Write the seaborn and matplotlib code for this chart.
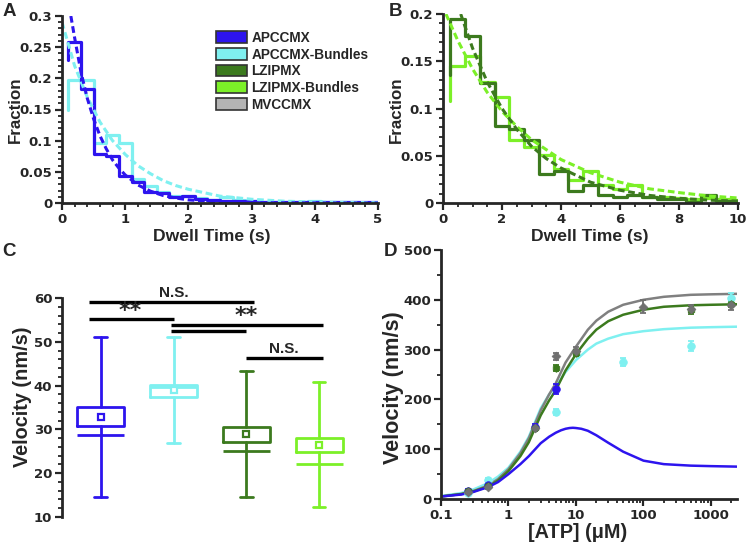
import numpy as np
import pandas as pd
import matplotlib
matplotlib.use("Agg")
import matplotlib.pyplot as plt
from matplotlib.patches import Patch
from matplotlib import font_manager
from matplotlib.ticker import MultipleLocator, FixedLocator, NullFormatter, LogLocator, FuncFormatter
import seaborn as sns

sns.set_style("ticks")
plt.rcParams['font.family'] = ['Liberation Sans', 'DejaVu Sans']
plt.rcParams['font.weight'] = 'bold'
plt.rcParams['axes.labelweight'] = 'bold'

_names = {f.name for f in font_manager.fontManager.ttflist}
if 'Liberation Sans Narrow' in _names:
    LABEL_FAM = ['Liberation Sans Narrow', 'DejaVu Sans']
    LSCALE = 1.0
else:
    LABEL_FAM = ['Liberation Sans', 'DejaVu Sans']
    LSCALE = 0.84

# ---------------- colours ----------------
C_BLUE = "#2d14ee"
C_CYAN = "#7ff0f0"
C_DGREEN = "#3c7a1e"
C_LGREEN = "#7cf028"
C_GRAY = "#808080"
C_GRAYFILL = "#b4b4b4"

# ---------------- Panel A data ----------------
a_edges_start = 0.1
a_bin = 0.2
a_blue_start = 0.23
a_blue = [0.259, 0.183, 0.079, 0.076, 0.044, 0.034, 0.017, 0.016, 0.010, 0.012,
          0.006, 0.005, 0.004, 0.003, 0.003, 0.002, 0.002, 0.001, 0.001, 0.002,
          0.001, 0.001, 0.001, 0.001, 0.001]
a_cyan_start = 0.15
a_cyan = [0.197, 0.197, 0.096, 0.109, 0.096, 0.039, 0.028, 0.018, 0.012, 0.012,
          0.008, 0.005, 0.010, 0.005, 0.003, 0.002, 0.002, 0.002, 0.002, 0.004,
          0.002, 0.001, 0.001, 0.0005, 0.0005]
a_fit_blue_x = [0.14, 0.2, 0.3, 0.4, 0.5, 0.6, 0.7, 0.8, 0.9, 1.0, 1.2, 1.4, 1.6, 1.8, 2.0, 2.5, 3.0, 4.0, 5.0]
a_fit_blue_y = [0.300, 0.265, 0.210, 0.168, 0.135, 0.108, 0.087, 0.069, 0.056, 0.045, 0.029, 0.019, 0.012, 0.008, 0.005, 0.0017, 0.0006, 0.0001, 0.0]
a_fit_cyan_x = [0.0, 0.2, 0.4, 0.6, 0.8, 1.0, 1.2, 1.4, 1.6, 1.8, 2.0, 2.5, 3.0, 3.5, 4.0, 5.0]
a_fit_cyan_y = [0.290, 0.220, 0.170, 0.130, 0.100, 0.078, 0.060, 0.047, 0.036, 0.028, 0.022, 0.011, 0.006, 0.003, 0.0015, 0.0005]

# ---------------- Panel B data ----------------
b_edges_start = 0.25
b_bin = 0.5
b_dg_start = 0.135
b_dg = [0.195, 0.177, 0.127, 0.081, 0.078, 0.067, 0.031, 0.034, 0.013, 0.019,
        0.008, 0.006, 0.008, 0.006, 0.004, 0.004, 0.0015, 0.008, 0.002, 0.002]
b_lg_start = 0.108
b_lg = [0.145, 0.156, 0.128, 0.112, 0.067, 0.059, 0.051, 0.036, 0.024, 0.034,
        0.019, 0.015, 0.019, 0.006, 0.006, 0.005, 0.004, 0.005, 0.004, 0.003]
b_fit_dg_x = [0.6, 1.0, 1.5, 2.0, 2.5, 3.0, 3.5, 4.0, 5.0, 6.0, 7.0, 8.0, 9.0, 10.0]
b_fit_dg_y = [0.200, 0.164, 0.128, 0.100, 0.078, 0.060, 0.047, 0.037, 0.022, 0.0135, 0.008, 0.005, 0.003, 0.002]
b_fit_lg_x = [0.1, 0.5, 1.0, 1.5, 2.0, 2.5, 3.0, 4.0, 5.0, 6.0, 7.0, 8.0, 9.0, 10.0]
b_fit_lg_y = [0.200, 0.172, 0.142, 0.117, 0.097, 0.081, 0.067, 0.046, 0.032, 0.022, 0.015, 0.011, 0.0075, 0.0053]

# ---------------- Panel C data ----------------
c_names = ["APCCMX", "APCCMX-Bundles", "LZIPMX", "LZIPMX-Bundles"]
c_q1 = [30.7, 37.5, 27.1, 24.8]
c_q3 = [35.1, 40.2, 30.6, 28.1]
c_mean = [32.9, 38.9, 28.9, 26.5]
c_med = [28.8, 39.7, 25.1, 22.1]
c_lo = [14.6, 26.8, 14.6, 12.2]
c_hi = [51.2, 51.2, 43.3, 40.8]
c_sig_x0 = [-0.16, -0.16, 0.96, 0.96, 2.0]
c_sig_x1 = [2.1, 1.01, 3.05, 1.99, 3.05]
c_sig_y = [59.2, 55.1, 53.9, 52.4, 46.4]
c_sig_text = ["N.S.", "**", "**", "", "N.S."]
c_sig_tx = [1.0, 0.4, 2.0, 1.5, 2.52]
c_sig_ty = [61.2, 57.0, 55.8, 52.8, 48.3]

# ---------------- Panel D data ----------------
d_curve_x = [0.1, 0.2, 0.3, 0.5, 0.7, 1, 1.5, 2, 3, 4, 5, 7, 10, 15, 20, 30, 50, 100, 200, 500, 1000, 2430]
d_gray_y = [5, 10, 16, 27, 40, 60, 92, 122, 178, 210, 232, 274, 306, 340, 358, 376, 390, 400, 406, 410, 411, 412]
d_dg_y = [5, 10, 15, 25, 37, 56, 86, 114, 168, 198, 218, 258, 291, 322, 340, 357, 370, 380, 386, 389, 390, 391]
d_cyan_y = [6, 12, 19, 32, 45, 63, 95, 125, 182, 210, 225, 255, 279, 300, 312, 322, 331, 337, 341, 344, 345, 346]
d_blue_x = [0.1, 0.2, 0.3, 0.5, 0.7, 1, 1.5, 2, 3, 4, 5, 6, 7, 8, 9, 10, 12, 15, 20, 30, 50, 100, 200, 500, 1000, 2430]
d_blue_y = [5, 9, 14, 24, 34, 50, 70, 86, 112, 125, 133, 138, 141, 142.5, 143, 142.5, 141, 137, 128, 113, 95, 77, 70, 67, 66, 65]

d_gray_px = [0.25, 0.5, 2.5, 5, 10, 100, 500, 2000]
d_gray_py = [15, 25, 143, 287, 297, 386, 382, 390]
d_gray_pe = [3, 4, 5, 7, 8, 13, 8, 10]
d_dg_px = [0.25, 0.5, 2.5, 5, 10, 500, 2000]
d_dg_py = [16, 27, 142, 264, 293, 380, 391]
d_dg_pe = [3, 3, 5, 6, 6, 8, 6]
d_cyan_px = [0.25, 0.5, 5, 50, 500, 2000]
d_cyan_py = [13, 38, 175, 275, 308, 403]
d_cyan_pe = [3, 4, 6, 8, 10, 10]
d_blue_px = [0.25, 0.5, 2.5, 5]
d_blue_py = [17, 28, 145, 220]
d_blue_pe = [3, 3, 5, 10]

legend_names = ["APCCMX", "APCCMX-Bundles", "LZIPMX", "LZIPMX-Bundles", "MVCCMX"]
legend_colors = [C_BLUE, C_CYAN, C_DGREEN, C_LGREEN, C_GRAYFILL]

W, H = 747, 551
fig = plt.figure(figsize=(W / 100, H / 100), dpi=100)


def ax_px(l, t, r, b):
    return fig.add_axes([l / W, 1 - b / H, (r - l) / W, (b - t) / H])


def style_axes(ax, hide_bottom=False):
    sns.despine(ax=ax)
    for s in ["left", "bottom"]:
        ax.spines[s].set_linewidth(2.0)
    if hide_bottom:
        ax.spines["bottom"].set_visible(False)
    ax.tick_params(which="major", length=5, width=1.6, labelsize=9.5, pad=2)
    ax.tick_params(which="minor", length=3, width=1.3)
    for lab in ax.get_xticklabels() + ax.get_yticklabels():
        lab.set_fontweight("bold")
        lab.set_family("DejaVu Sans")


def set_labels(ax, xl, xs, xpos, yl, ys, ypos):
    if xl:
        ax.set_xlabel(xl, fontsize=xs * LSCALE, family=LABEL_FAM, fontweight="bold")
        ax.xaxis.set_label_coords(*xpos)
        ax.xaxis.label.set_va("center")
    if yl:
        ax.set_ylabel(yl, fontsize=ys * LSCALE, family=LABEL_FAM, fontweight="bold")
        ax.yaxis.set_label_coords(*ypos)
        ax.yaxis.label.set_va("center")


def step_xy(start, width, start_val, vals):
    xs = [start] + [start + i * width for i in range(len(vals) + 1)]
    ys = [start_val] + list(vals) + [vals[-1]]
    return xs, ys


dash = (0, (2.2, 1.2))

# ================= Panel A =================
axA = ax_px(62, 16, 378, 203)
for start_val, vals, col in [(a_cyan_start, a_cyan, C_CYAN), (a_blue_start, a_blue, C_BLUE)]:
    xs, ys = step_xy(a_edges_start, a_bin, start_val, vals)
    sns.lineplot(x=xs, y=ys, ax=axA, color=col, lw=2.3, estimator=None, sort=False,
                 drawstyle="steps-post")
sns.lineplot(x=a_fit_cyan_x, y=a_fit_cyan_y, ax=axA, color=C_CYAN, lw=2.2, linestyle=dash, estimator=None)
sns.lineplot(x=a_fit_blue_x, y=a_fit_blue_y, ax=axA, color=C_BLUE, lw=2.2, linestyle=dash, estimator=None)
axA.set_xlim(0, 5)
axA.set_ylim(0, 0.3)
axA.xaxis.set_major_locator(MultipleLocator(1))
axA.xaxis.set_minor_locator(MultipleLocator(0.2))
axA.yaxis.set_major_locator(FixedLocator([0, 0.05, 0.1, 0.15, 0.2, 0.25, 0.3]))
axA.yaxis.set_minor_locator(MultipleLocator(0.01))
axA.set_yticklabels(["0", "0.05", "0.1", "0.15", "0.2", "0.25", "0.3"])
style_axes(axA)
set_labels(axA, "Dwell Time (s)", 15, ((212 - 62) / 316, (203 - 236) / 187),
           "Fraction", 14.5, ((15 - 62) / 316, (203 - 110) / 187))
handles = [Patch(facecolor=c, edgecolor="#333333", linewidth=1.2) for c in legend_colors]
leg = axA.legend(handles, legend_names, loc="upper left", bbox_to_anchor=(0.47, 0.95),
                 frameon=False, handlelength=2.3, handleheight=0.95, labelspacing=0.2,
                 handletextpad=0.3, borderaxespad=0,
                 prop={"weight": "bold", "size": 9.8, "family": "Liberation Sans"})

# ================= Panel B =================
axB = ax_px(443, 14, 738, 203)
for start_val, vals, col in [(b_lg_start, b_lg, C_LGREEN), (b_dg_start, b_dg, C_DGREEN)]:
    xs, ys = step_xy(b_edges_start, b_bin, start_val, vals)
    sns.lineplot(x=xs, y=ys, ax=axB, color=col, lw=2.3, estimator=None, sort=False,
                 drawstyle="steps-post")
sns.lineplot(x=b_fit_lg_x, y=b_fit_lg_y, ax=axB, color=C_LGREEN, lw=2.2, linestyle=dash, estimator=None)
sns.lineplot(x=b_fit_dg_x, y=b_fit_dg_y, ax=axB, color=C_DGREEN, lw=2.2, linestyle=dash, estimator=None)
axB.set_xlim(0, 10)
axB.set_ylim(0, 0.2)
axB.xaxis.set_major_locator(MultipleLocator(2))
axB.xaxis.set_minor_locator(MultipleLocator(0.5))
axB.yaxis.set_major_locator(FixedLocator([0, 0.05, 0.1, 0.15, 0.2]))
axB.yaxis.set_minor_locator(MultipleLocator(0.01))
axB.set_yticklabels(["0", "0.05", "0.1", "0.15", "0.2"])
style_axes(axB)
set_labels(axB, "Dwell Time (s)", 15, ((590 - 443) / 295, (203 - 236) / 189),
           "Fraction", 14.5, ((396 - 443) / 295, (203 - 110) / 189))

# ================= Panel C =================
axC = ax_px(62, 298, 363, 517)
box_cols = [C_BLUE, C_CYAN, C_DGREEN, C_LGREEN]
for i in range(4):
    st = [dict(med=c_med[i], q1=c_q1[i], q3=c_q3[i], whislo=c_lo[i], whishi=c_hi[i],
               mean=c_mean[i], fliers=[], label=c_names[i])]
    col = box_cols[i]
    axC.bxp(st, positions=[i], widths=0.65, capwidths=0.17, showmeans=True, showfliers=False,
            boxprops=dict(color=col, lw=2.0), whiskerprops=dict(color=col, lw=2.0),
            capprops=dict(color=col, lw=2.0), medianprops=dict(color=col, lw=2.0),
            meanprops=dict(marker="s", markerfacecolor="white", markeredgecolor=col,
                           markersize=4.5, markeredgewidth=1.6), manage_ticks=False)
for x0, x1, y, t, tx, ty in zip(c_sig_x0, c_sig_x1, c_sig_y, c_sig_text, c_sig_tx, c_sig_ty):
    axC.plot([x0, x1], [y, y], color="black", lw=2.4, clip_on=False, solid_capstyle="butt")
    if t == "**":
        axC.text(tx, ty, t, ha="center", va="center", fontsize=16, fontweight="bold",
                 family="DejaVu Sans", clip_on=False)
    elif t:
        axC.text(tx, ty, t, ha="center", va="center", fontsize=11, fontweight="bold", clip_on=False)
axC.set_xlim(-0.53, 3.6)
axC.set_ylim(10, 60)
axC.yaxis.set_major_locator(MultipleLocator(10))
axC.yaxis.set_minor_locator(MultipleLocator(2))
axC.set_xticks([])
style_axes(axC, hide_bottom=True)
set_labels(axC, None, 0, None, "Velocity (nm/s)", 17, ((23 - 62) / 301, (517 - 397) / 219))

# ================= Panel D =================
axD = ax_px(441, 250, 737, 499)
curve_df = pd.DataFrame({"x": d_curve_x, "gray": d_gray_y, "dg": d_dg_y, "cyan": d_cyan_y})
sns.lineplot(data=curve_df, x="x", y="cyan", ax=axD, color=C_CYAN, lw=1.8, estimator=None)
sns.lineplot(data=curve_df, x="x", y="gray", ax=axD, color=C_GRAY, lw=1.8, estimator=None)
sns.lineplot(data=curve_df, x="x", y="dg", ax=axD, color=C_DGREEN, lw=1.8, estimator=None)
sns.lineplot(x=d_blue_x, y=d_blue_y, ax=axD, color=C_BLUE, lw=1.8, estimator=None)
for px, py, pe, col, mk, ms in [(d_cyan_px, d_cyan_py, d_cyan_pe, C_CYAN, "o", 5.5),
                                (d_blue_px, d_blue_py, d_blue_pe, C_BLUE, "o", 5.5),
                                (d_dg_px, d_dg_py, d_dg_pe, C_DGREEN, "h", 5.5),
                                (d_gray_px, d_gray_py, d_gray_pe, "#707070", "D", 4.5)]:
    axD.errorbar(px, py, yerr=pe, fmt="none", ecolor=col, elinewidth=1.3, capsize=2.5, capthick=1.3)
    sns.scatterplot(x=px, y=py, ax=axD, color=col, marker=mk, s=ms ** 2, edgecolor=col, linewidth=0.5, zorder=5)
axD.set_xscale("log")
axD.set_xlim(0.1, 2430)
axD.set_ylim(0, 500)
axD.xaxis.set_major_locator(FixedLocator([0.1, 1, 10, 100, 1000]))
axD.xaxis.set_major_formatter(FuncFormatter(lambda v, p: {0.1: "0.1", 1: "1", 10: "10", 100: "100", 1000: "1000"}.get(round(v, 3), "")))
axD.xaxis.set_minor_locator(LogLocator(base=10, subs=np.arange(2, 10)))
axD.xaxis.set_minor_formatter(NullFormatter())
axD.yaxis.set_major_locator(MultipleLocator(100))
axD.yaxis.set_minor_locator(MultipleLocator(50))
style_axes(axD)
set_labels(axD, "[ATP] (\u03bcM)", 17, ((578 - 441) / 296, (499 - 532) / 249),
           "Velocity (nm/s)", 18.5, ((394 - 441) / 296, (499 - 388) / 249))

# panel letters
for lt, x, y in [("A", 9, 12), ("B", 395, 12), ("C", 9, 252), ("D", 391, 251)]:
    fig.text(x / W, 1 - y / H, lt, fontsize=13.5, fontweight="bold", ha="center", va="center")

fig.savefig("out.png", dpi=100)
